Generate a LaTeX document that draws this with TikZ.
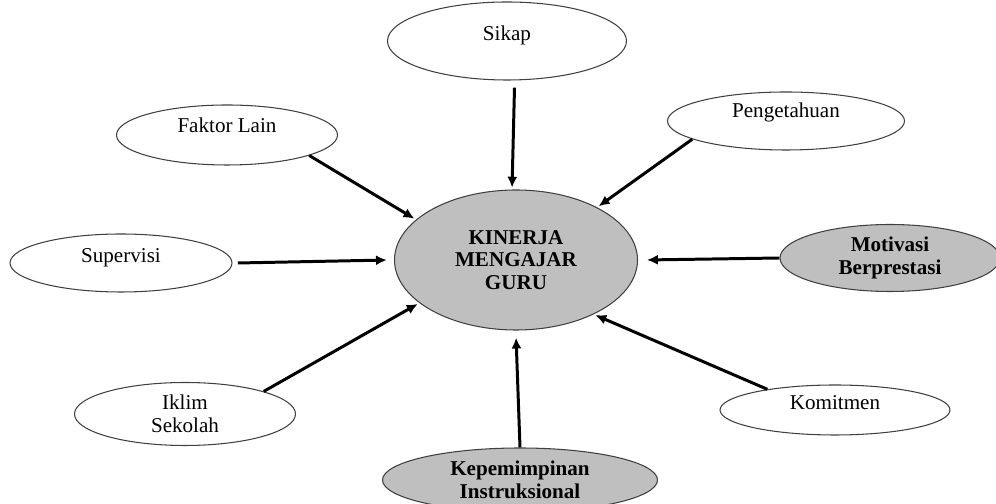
\documentclass[tikz,border=0pt]{standalone}
\usepackage{fontspec}
\setmainfont{Liberation Serif}
\usetikzlibrary{shapes.geometric}
\usetikzlibrary{arrows.meta}
\tikzset{
	faktor/.style={ellipse, draw=black!75, line width=0.6pt, align=center, inner sep=0pt, font=\fontsize{12}{13}\selectfont},
	pokok/.style={faktor, fill=black!25, font=\fontsize{12}{13}\selectfont\bfseries},
	naik/.style={text depth=#1},
	panah/.style={-{Latex[length=2.2mm,width=2mm]}, line width=1.7pt, shorten >=1pt}
}
\begin{document}
\begin{tikzpicture}
			\useasboundingbox (0,0) rectangle (19.92,10.08);
			\node [pokok, minimum width=4.86cm, minimum height=2.8cm] (kinerja) at (10.32, 4.88) {KINERJA\\MENGAJAR\\GURU};
			\node [faktor, naik=9pt, minimum width=4.78cm, minimum height=1.56cm] (sikap) at (10.14, 9.26) {Sikap};
			\node [faktor, naik=11pt, minimum width=4.42cm, minimum height=1.2cm] (lain) at (4.54, 7.38) {Faktor Lain};
			\node [faktor, naik=12pt, minimum width=4.74cm, minimum height=1.16cm] (tahu) at (15.72, 7.66) {Pengetahuan};
			\node [faktor, naik=9pt, minimum width=4.44cm, minimum height=1.16cm] (supervisi) at (2.42, 4.82) {Supervisi};
			\node [pokok, minimum width=4.4cm, minimum height=1.34cm] (motivasi) at (17.8, 4.92) {Motivasi\\Berprestasi};
			\node [faktor, minimum width=4.42cm, minimum height=1.26cm] (iklim) at (3.7, 1.8) {Iklim\\Sekolah};
			\node [faktor, naik=9pt, minimum width=4.6cm, minimum height=1.0cm] (komitmen) at (16.7, 1.88) {Komitmen};
			\node [pokok, minimum width=5.5cm, minimum height=1.28cm] (pimpin) at (10.4, 0.48) {Kepemimpinan\\Instruksional};
			\draw [panah] ([xshift=1.5mm,yshift=-4pt]sikap.south) -- ([xshift=-0.8mm]kinerja.north);
			\draw [panah] (lain.-14) -- (kinerja.158);
			\draw [panah] (tahu.191) -- (kinerja.33);
			\draw [panah] ([xshift=3pt]supervisi.east) -- ([xshift=-3pt]kinerja.west);
			\draw [panah] (motivasi.west) -- ([xshift=4pt]kinerja.east);
			\draw [panah] (iklim.16) -- (kinerja.204);
			\draw [panah] (pimpin.north) -- ([yshift=-3pt]kinerja.south);
			\draw [panah] (komitmen.163) -- (kinerja.-35);
	\end{tikzpicture}
\end{document}
